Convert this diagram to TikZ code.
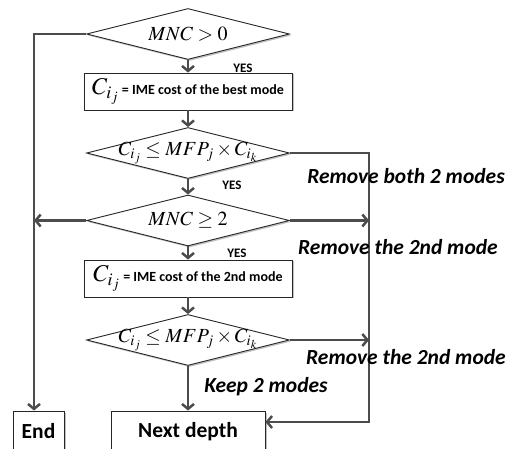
\documentclass[tikz,border=0pt]{standalone}
\usepackage{mathptmx}
\usepackage[no-math]{fontspec}
\setmainfont{Carlito}
\usetikzlibrary{shapes.geometric,arrows.meta,shadows}
\begin{document}
\begin{tikzpicture}[x=1pt,y=-1pt,
  shad/.style={drop shadow={shadow xshift=1.5pt,shadow yshift=-1.5pt,fill=black!30,opacity=0.8}},
  dia/.style={shape=diamond,draw=black!85,line width=0.9pt,fill=white,minimum width=203pt,minimum height=51pt,inner sep=0pt,shad},
  box/.style={draw=black!85,line width=0.9pt,fill=white,minimum width=208pt,minimum height=37pt,inner sep=2pt,shad},
  endbox/.style={draw=black!85,line width=0.9pt,fill=white,minimum height=41pt,inner sep=0pt,shad},
  conn/.style={draw=black!70,line width=2.5pt},
  arr/.style={conn,-{Straight Barb[length=5pt,width=12pt,line width=2.5pt]}},
  dtext/.style={font=\fontsize{20}{22}\selectfont},
  btext/.style={font=\fontsize{14}{16}\selectfont\bfseries},
  yes/.style={font=\fontsize{13}{14}\selectfont\bfseries},
  note/.style={font=\fontsize{21.5}{23}\selectfont\bfseries\itshape}]
\useasboundingbox (0,0) rectangle (512,449);
\clip (0,0) rectangle (512,449);

% shapes
\node[dia] (d1) at (188,34) {};
\node[dtext] (d1t) at (d1.center) {$MNC>0$};
\node[box,btext] (b1) at (188,91.5) {{\fontsize{24}{24}\selectfont$C_{i_j}$} = IME cost of the best mode};
\node[dia] (d2) at (188,153) {};
\node[dtext] (d2t) at (d2.center) {$C_{i_j}\le MFP_j\times C_{i_k}$};
\node[dia] (d3) at (188,220.5) {};
\node[dtext] (d3t) at (d3.center) {$MNC\ge 2$};
\node[box,btext] (b2) at (188,278.5) {{\fontsize{24}{24}\selectfont$C_{i_j}$} = IME cost of the 2nd mode};
\node[dia] (d4) at (188,340) {};
\node[dtext] (d4t) at (d4.center) {$C_{i_j}\le MFP_j\times C_{i_k}$};
\node[endbox,minimum width=51pt,font=\fontsize{21.5}{23}\selectfont\bfseries] (endb) at (38.5,431.5) {End};
\node[endbox,minimum width=154pt,font=\fontsize{21.5}{23}\selectfont\bfseries] (next) at (188,431.5) {Next depth};

% helper coordinates
\coordinate (L1) at (34,34);
\coordinate (R1) at (369,153);
\coordinate (R2) at (369,422);

% connectors
\draw[arr] (d1.west) -- (L1) -- (L1 |- endb.north);
\draw[arr] (d1.south) -- (b1.north);
\draw[arr] (b1.south) -- (d2.north);
\draw[arr] (d2.south) -- (d3.north);
\draw[arr] (d3.south) -- (b2.north);
\draw[arr] (b2.south) -- (d4.north);
\draw[arr] (d4.south) -- (next.north);
\draw[arr] (d2.east) -- (R1) -- (R2) -- (R2 -| next.east);
\draw[arr] (d3.west) -- (L1 |- d3.west);
\draw[arr] (d3.east) -- (R1 |- d3.east);
\draw[arr] (d4.east) -- (R1 |- d4.east);

% labels
\node[yes] (y1) at (243,68) {YES};
\node[yes] (y2) at (232,185) {YES};
\node[yes] (y3) at (237,253) {YES};
\node[note] (n1) at (406,176) {Remove both 2 modes};
\node[note] (n2) at (398,247) {Remove the 2nd mode};
\node[note] (n3) at (406,357) {Remove the 2nd mode};
\node[note] (n4) at (266,387) {Keep 2 modes};
\end{tikzpicture}
\end{document}
